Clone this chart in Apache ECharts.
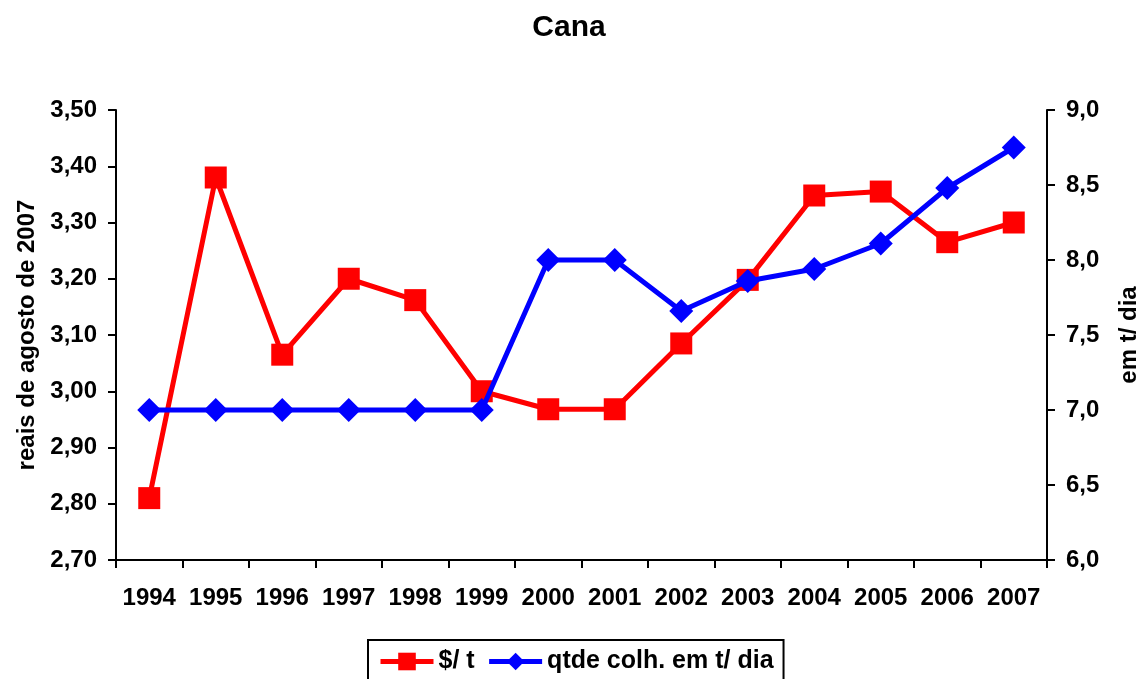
<!DOCTYPE html>
<html>
<head>
<meta charset="utf-8">
<script src="https://cdn.jsdelivr.net/npm/echarts@6/dist/echarts.min.js"></script>
<style>
  html, body { margin: 0; padding: 0; background: #fff; }
  #chart { width: 1138px; height: 679px; }
</style>
</head>
<body>
<div id="chart"></div>
<script>
  // data
  const years = ['1994', '1995', '1996', '1997', '1998', '1999', '2000', '2001', '2002', '2003', '2004', '2005', '2006', '2007'];
  const precoPorT = [2.81, 3.38, 3.065, 3.20, 3.162, 3.00, 2.968, 2.968, 3.085, 3.198, 3.348, 3.355, 3.265, 3.30];
  const qtdeColh = [7.0, 7.0, 7.0, 7.0, 7.0, 7.0, 8.0, 8.0, 7.66, 7.86, 7.94, 8.11, 8.48, 8.75];

  const font = 'Liberation Sans, Arial, sans-serif';
  const chart = echarts.init(document.getElementById('chart'));

  const axisLine = { show: true, lineStyle: { color: '#000', width: 2 } };
  const axisTick = { show: true, length: 8, lineStyle: { color: '#000', width: 2 } };
  const label = { color: '#000', fontFamily: font, fontWeight: 'bold', fontSize: 24 };
  const nameStyle = { fontFamily: font, fontWeight: 'bold', fontSize: 24, color: '#000' };

  chart.setOption({
    animation: false,
    title: {
      text: 'Cana',
      left: 'center',
      top: 8,
      textStyle: { fontFamily: font, fontWeight: 'bold', fontSize: 30, color: '#000' }
    },
    legend: {
      top: 640,
      left: 368,
      padding: [9, 10, 20, 10],
      borderColor: '#000',
      borderWidth: 2,
      borderRadius: 0,
      itemWidth: 53,
      itemHeight: 22,
      itemGap: 12,
      lineStyle: { width: 5 },
      textStyle: { fontFamily: font, fontWeight: 'bold', fontSize: 25, color: '#000' },
      data: ['$/ t', 'qtde colh. em t/ dia']
    },
    grid: { left: 116, right: 91, top: 110, bottom: 119, outerBoundsMode: 'none' },
    xAxis: {
      type: 'category',
      data: years,
      boundaryGap: true,
      axisLine: axisLine,
      axisTick: axisTick,
      axisLabel: Object.assign({ margin: 26, interval: 0 }, label),
      splitLine: { show: false }
    },
    yAxis: [{
      type: 'value',
      min: 2.7,
      max: 3.5,
      interval: 0.1,
      name: 'reais de agosto de 2007',
      nameLocation: 'middle',
      nameRotate: 90,
      nameGap: 77,
      nameTextStyle: nameStyle,
      axisLine: axisLine,
      axisTick: axisTick,
      axisLabel: Object.assign({ margin: 19, formatter: v => v.toFixed(2).replace('.', ',') }, label),
      splitLine: { show: false }
    }, {
      type: 'value',
      min: 6,
      max: 9,
      interval: 0.5,
      name: 'em t/ dia',
      nameLocation: 'middle',
      nameRotate: 90,
      nameGap: 70,
      nameTextStyle: nameStyle,
      axisLine: axisLine,
      axisTick: axisTick,
      axisLabel: Object.assign({ margin: 19, formatter: v => v.toFixed(1).replace('.', ',') }, label),
      splitLine: { show: false }
    }],
    series: [{
      name: '$/ t',
      type: 'line',
      yAxisIndex: 0,
      data: precoPorT,
      symbol: 'rect',
      symbolSize: 22,
      itemStyle: { color: '#ff0000' },
      lineStyle: { color: '#ff0000', width: 5 },
      z: 2
    }, {
      name: 'qtde colh. em t/ dia',
      type: 'line',
      yAxisIndex: 1,
      data: qtdeColh,
      symbol: 'diamond',
      symbolSize: [24, 24],
      itemStyle: { color: '#0000ff' },
      lineStyle: { color: '#0000ff', width: 5 },
      z: 3
    }]
  });
</script>
</body>
</html>
